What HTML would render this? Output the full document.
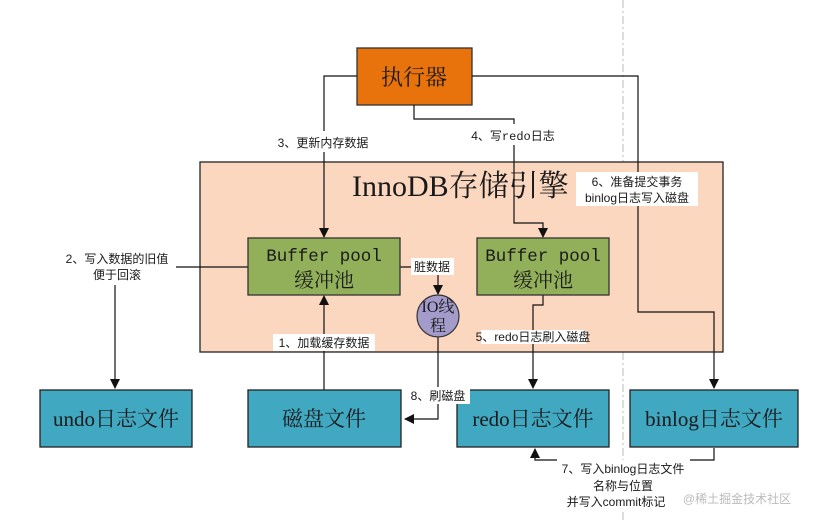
<!DOCTYPE html>
<html><head><meta charset="utf-8"><style>
html,body{margin:0;padding:0;background:#fff;}
svg{display:block;}
text{font-family:"Liberation Serif","Noto Serif CJK SC",serif;fill:#1a1a1a;}
.s{font-family:"Liberation Sans","Noto Sans CJK SC",sans-serif;font-size:12px;}
.m{font-family:"Liberation Mono","Noto Serif CJK SC",monospace;}
</style></head><body>
<svg width="828" height="523" viewBox="0 0 828 523" xmlns="http://www.w3.org/2000/svg">
<defs><marker id="a" markerWidth="10" markerHeight="10" refX="9" refY="5" orient="auto" markerUnits="userSpaceOnUse"><path d="M0,0 L10,5 L0,10 z" fill="#111"/></marker></defs>
<line x1="623" y1="0" x2="623" y2="523" stroke="#bbb" stroke-dasharray="8,3,2,3" stroke-width="1"/>
<rect x="200" y="162" width="523" height="190" fill="#fbd7bf" stroke="#222" stroke-width="1.3"/>
<text x="352" y="196" font-size="30">InnoDB存储引擎</text>
<rect x="357" y="48" width="115" height="57" fill="#e8720c" stroke="#333" stroke-width="1.3"/>
<text x="414" y="85" font-size="22" text-anchor="middle">执行器</text>
<g fill="none" stroke="#111" stroke-width="1.2">
<polyline points="357,76 324,76 324,237" marker-end="url(#a)"/>
<polyline points="414,105 414,119 514,119 514,223 543,223 543,237" marker-end="url(#a)"/>
<polyline points="472,76 638,76 638,312 714,312 714,388" marker-end="url(#a)"/>
<polyline points="248,267 115,267 115,388" marker-end="url(#a)"/>
<polyline points="324,390 324,296" marker-end="url(#a)"/>
<polyline points="400,267 438,267 438,294" marker-end="url(#a)"/>
<polyline points="438,337 438,419 405,419" marker-end="url(#a)"/>
<polyline points="543,295 543,305 533,305 533,388" marker-end="url(#a)"/>
<polyline points="714,448 714,460 690,460"/>
<polyline points="557,460 535,460 535,449" marker-end="url(#a)"/>
</g>
<rect x="248" y="238" width="152" height="57" fill="#92b05a" stroke="#333" stroke-width="1.3"/>
<text class="m" x="324" y="261" font-size="17.5" text-anchor="middle">Buffer pool</text>
<text x="324" y="287" font-size="20" text-anchor="middle">缓冲池</text>
<rect x="477" y="238" width="132" height="57" fill="#92b05a" stroke="#333" stroke-width="1.3"/>
<text class="m" x="543" y="261" font-size="17.5" text-anchor="middle">Buffer pool</text>
<text x="543" y="287" font-size="20" text-anchor="middle">缓冲池</text>
<circle cx="438" cy="316" r="21" fill="#a39bc9" stroke="#333" stroke-width="1.2"/>
<text x="438" y="312" font-size="16" text-anchor="middle">IO线</text>
<text x="438" y="331" font-size="16" text-anchor="middle">程</text>
<rect x="40" y="390" width="152" height="57" fill="#41a8c2" stroke="#222" stroke-width="1.3"/>
<text x="116" y="426" font-size="21" text-anchor="middle">undo日志文件</text>
<rect x="248" y="390" width="153" height="57" fill="#41a8c2" stroke="#222" stroke-width="1.3"/>
<text x="324" y="426" font-size="21" text-anchor="middle">磁盘文件</text>
<rect x="457" y="390" width="152" height="57" fill="#41a8c2" stroke="#222" stroke-width="1.3"/>
<text x="533" y="426" font-size="21" text-anchor="middle">redo日志文件</text>
<rect x="630" y="390" width="168" height="57" fill="#41a8c2" stroke="#222" stroke-width="1.3"/>
<text x="714" y="426" font-size="21" text-anchor="middle">binlog日志文件</text>
<rect x="262" y="131" width="122" height="21" fill="#fff"/>
<text class="s" x="323" y="147" text-anchor="middle" font-size="15">3、更新内存数据</text>
<rect x="460" y="124" width="106" height="21" fill="#fff"/>
<text class="s" x="513" y="140" text-anchor="middle" font-size="15">4、写<tspan class="m">redo</tspan>日志</text>
<rect x="576" y="172" width="122" height="34" fill="#fff"/>
<text class="s" x="637" y="186" text-anchor="middle">6、准备提交事务</text>
<text class="s" x="637" y="202" text-anchor="middle">binlog日志写入磁盘</text>
<rect x="58" y="250" width="118" height="35" fill="#fff"/>
<text class="s" x="117" y="263" text-anchor="middle">2、写入数据的旧值</text>
<text class="s" x="117" y="279" text-anchor="middle">便于回滚</text>
<rect x="411" y="258" width="43" height="17" fill="#fff"/>
<text class="s" x="432" y="271" text-anchor="middle">脏数据</text>
<rect x="273" y="334" width="102" height="17" fill="#fff"/>
<text class="s" x="324" y="347" text-anchor="middle">1、加载缓存数据</text>
<rect x="481" y="330" width="105" height="14" fill="#fff"/>
<text class="s" x="533" y="341" text-anchor="middle" font-size="10">5、redo日志刷入磁盘</text>
<rect x="407" y="387" width="63" height="17" fill="#fff"/>
<text class="s" x="438" y="400" text-anchor="middle">8、刷磁盘</text>
<rect x="557" y="460" width="132" height="50" fill="#fff"/>
<text class="s" x="623" y="473" text-anchor="middle">7、写入binlog日志文件</text>
<text class="s" x="623" y="490" text-anchor="middle">名称与位置</text>
<text class="s" x="616" y="506" text-anchor="middle">并写入commit标记</text>
<text class="s" x="737" y="503" text-anchor="middle" font-size="17" style="fill:#bbb">@稀土掘金技术社区</text>
</svg>
</body></html>
